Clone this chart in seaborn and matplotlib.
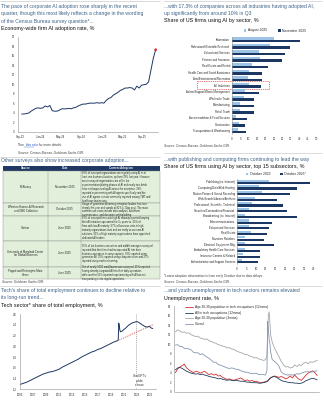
import textwrap
import numpy as np
import pandas as pd
import matplotlib
matplotlib.use("Agg")
import matplotlib.pyplot as plt
import seaborn as sns
from matplotlib.patches import Rectangle

# ---------------- data ----------------
# Panel 1: economy-wide firm AI adoption rate (biweekly survey), %
ai_dates = pd.date_range("2023-09-11", periods=58, freq="14D")
ai_rate = [3.7, 3.7, 3.8, 3.9, 4.3, 4.6, 4.9, 5.0, 4.9,
           5.0, 5.4, 5.2, 5.5, 4.4, 4.3, 4.3, 4.5, 4.8,
           4.8, 4.8, 4.9, 4.8, 5.0, 5.1, 5.4, 5.6, 5.8,
           5.8, 5.9, 6.0, 6.0, 6.0, 6.1, 6.0, 6.1, 6.0,
           6.6, 7.0, 7.2, 7.7, 8.0, 8.3, 8.7, 8.9, 9.2,
           9.2, 9.3, 9.2, 8.8, 9.6, 9.2, 9.8, 9.9, 10.0,
           10.5, 13.0, 15.5, 17.3]
ai_xticks = ["2023-09-01", "2024-01-01", "2024-05-01", "2024-09-01",
             "2025-01-01", "2025-05-01", "2025-09-01"]
ai_xlabels = ["Sep-23", "Jan-24", "May-24", "Sep-24", "Jan-25", "May-25", "Sep-25"]

# Panel 2: share of US firms using AI by sector, %
sectors = ["Information", "Professional/Scientific/Technical", "Educational Services",
           "Finance and Insurance", "Real Estate and Rental",
           "Health Care and Social Assistance", "Arts/Entertainment/Recreation",
           "All Industries", "Admin/Support/Waste Management", "Wholesale Trade",
           "Manufacturing", "Retail Trade", "Accommodation & Food Services",
           "Construction", "Transportation & Warehousing"]
sector_aug = [24.8, 22.8, 15.9, 16.9, 11.9, 10.3, 9.5, 10.0, 8.0, 7.0, 5.0, 5.0, 2.4, 4.0, 3.7]
sector_nov = [40.7, 34.7, 31.7, 29.8, 21.4, 17.9, 17.9, 17.3, 15.9, 12.9, 12.9, 12.9, 8.9, 8.0, 8.3]
sector_periods = ["August 2025", "November 2025"]

# Panel 3: top 15 subsectors, %
subsectors = ["Publishing (ex. Internet)", "Computing/Data/Web Hosting",
              "Motion Picture & Sound Recording", "Web Search/Libraries/Archives",
              "Professional, Scientific, Technical", "Securities/Commodities/Financial",
              "Broadcasting (ex. Internet)", "Telecommunications", "Educational Services",
              "Real Estate", "Nonstore Retailers", "Electrical Equipment Mfg.",
              "Ambulatory Health Care Services", "Insurance Carriers & Related",
              "Administrative and Support Services"]
sub_2023 = [16.5, 11.3, 13.0, 9.5, 7.8, 6.2, 4.3, 6.2, 6.0, 7.4, 4.3, 4.3, 4.0, 3.2, 2.6]
sub_2025 = [38.2, 31.3, 27.8, 20.8, 23.8, 26.0, 31.3, 18.2, 16.8, 15.6, 13.9, 19.1, 12.1, 12.1, 11.0]
sub_periods = ["October 2023", "October 2025*"]

# Table: other surveys
tbl_source = ["McKinsey", "Wharton Human-AI Research\nand GBK Collective", "Gartner",
              "University of Maryland Center\nfor Global Business",
              "Paypal and Reimagine Main\nStreet"]
tbl_date = ["November 2025", "October 2025", "June 2025", "June 2025", "June 2025"]
tbl_text = [
    "88% of surveyed organizations are regularly using AI in at least one business "
    "function, up from 78% last year. However, most surveyed organizations are still in "
    "the experimentation/piloting phases of AI and nearly two-thirds have not begun "
    "scaling AI across the enterprise. 39% reported experimenting with AI agents "
    "specifically and the use of AI agents is most commonly reported among TMT and "
    "healthcare businesses.",
    "Usage of generative AI among enterprise leaders has risen sharply this year and "
    "stands at 82% (+72pp yoy). The most common use cases include data analysis, "
    "document summarization, and document writing/editing.",
    "63% of surveyed firms with high AI maturity reported keeping their AI initiatives "
    "operational for 3+ years vs. 20% of firms with low AI maturity. 57% of business "
    "units in high-maturity organizations trust and are ready to use new AI solutions. "
    "91% of high-maturity organizations have appointed dedicated AI leaders.",
    "55% of the business executives and middle managers surveyed reported that their "
    "firms had incorporated AI into their business operations in some capacity. 39% "
    "reported using generative AI, 35% reported using computer vision and 27% reported "
    "using machine learning.",
    "Out of nearly 1000 small businesses surveyed, 25% reported having already "
    "integrated AI into their daily operations while another 51% reported experimenting "
    "with AI but not incorporating it into regular operations.",
]

# Panel 4: tech sector share of total employment, %
tech_year = [2005.0, 2005.5, 2006.0, 2006.5, 2007.0, 2007.5, 2008.0, 2008.5, 2009.0, 2009.5,
             2010.0, 2010.5, 2011.0, 2011.5, 2012.0, 2012.5, 2013.0, 2013.5, 2014.0, 2014.5,
             2015.0, 2015.5, 2016.0, 2016.5, 2017.0, 2017.5, 2018.0, 2018.5, 2019.0, 2019.5,
             2020.0, 2020.17, 2020.25, 2020.33, 2020.42, 2020.5, 2020.75, 2021.0, 2021.25,
             2021.5, 2021.75, 2022.0, 2022.25, 2022.5, 2022.75, 2023.0, 2023.25, 2023.5,
             2023.75, 2024.0, 2024.25, 2024.5, 2024.75, 2025.0, 2025.25, 2025.5]
tech_share = [1.29, 1.31, 1.33, 1.36, 1.39, 1.42, 1.45, 1.48, 1.50, 1.52,
              1.53, 1.55, 1.57, 1.61, 1.64, 1.67, 1.70, 1.73, 1.76, 1.80,
              1.83, 1.86, 1.89, 1.91, 1.94, 1.96, 1.99, 2.02, 2.05, 2.08,
              2.10, 2.12, 2.43, 2.38, 2.30, 2.27, 2.28, 2.31, 2.33,
              2.36, 2.39, 2.41, 2.43, 2.44, 2.45, 2.46, 2.45, 2.43,
              2.41, 2.39, 2.37, 2.36, 2.36, 2.37, 2.34, 2.33]
trend_year = [2020.2, 2025.5]
trend_share = [2.11, 2.40]
chatgpt_release = 2022.9
tech_xticks = list(range(2005, 2026, 2))
tech_yticks = [1.2, 1.4, 1.6, 1.8, 2.0, 2.2, 2.4, 2.6]

# Panel 5: unemployment rate, %
u_t = [2010.0, 2010.25, 2010.5, 2010.75, 2011.0, 2011.25, 2011.5, 2011.75, 2012.0, 2012.25,
       2012.5, 2012.75, 2013.0, 2013.25, 2013.5, 2013.75, 2014.0, 2014.25, 2014.5, 2014.75,
       2015.0, 2015.25, 2015.5, 2015.75, 2016.0, 2016.25, 2016.5, 2016.75, 2017.0, 2017.25,
       2017.5, 2017.75, 2018.0, 2018.25, 2018.5, 2018.75, 2019.0, 2019.25, 2019.5, 2019.75,
       2020.0, 2020.17, 2020.25, 2020.33, 2020.42, 2020.5, 2020.58, 2020.75, 2021.0, 2021.25,
       2021.5, 2021.75, 2022.0, 2022.25, 2022.5, 2022.75, 2023.0, 2023.25, 2023.5, 2023.75,
       2024.0, 2024.25, 2024.5, 2024.75, 2025.0, 2025.25, 2025.5, 2025.75]
u_young = [12.6, 13.0, 12.8, 12.5, 12.6, 12.3, 12.4, 12.0, 11.8, 11.6,
           11.7, 11.3, 11.2, 11.0, 11.1, 10.7, 10.6, 10.3, 10.2, 9.9,
           9.8, 9.6, 9.5, 9.2, 9.3, 9.0, 8.9, 8.6, 8.4, 8.2,
           8.1, 7.8, 7.8, 7.5, 7.4, 7.1, 7.2, 6.9, 6.8, 6.6,
           6.7, 7.5, 11.5, 16.2, 16.8, 14.5, 12.0, 10.5, 9.2, 8.3,
           7.4, 6.4, 5.7, 5.2, 5.3, 5.0, 5.1, 5.6, 5.3, 5.7,
           5.5, 6.0, 6.2, 5.9, 6.3, 6.2, 6.4, 6.6]
u_overall = [9.8, 9.9, 9.5, 9.5, 9.1, 9.1, 9.0, 8.8, 8.3, 8.2,
             8.2, 7.8, 8.0, 7.6, 7.3, 7.0, 6.6, 6.2, 6.2, 5.7,
             5.6, 5.4, 5.2, 5.0, 4.9, 5.0, 4.9, 4.7, 4.7, 4.4,
             4.3, 4.1, 4.1, 3.9, 3.8, 3.8, 3.9, 3.6, 3.6, 3.6,
             3.5, 4.4, 14.8, 13.2, 11.0, 10.2, 8.4, 6.8, 6.4, 6.0,
             5.4, 4.2, 3.8, 3.6, 3.5, 3.6, 3.5, 3.6, 3.8, 3.7,
             3.9, 4.1, 4.2, 4.2, 4.1, 4.2, 4.3, 4.4]
u_t_tech = [2010.0, 2010.25, 2010.5, 2010.75, 2011.0, 2011.25, 2011.5, 2011.75, 2012.0, 2012.25,
            2012.5, 2012.75, 2013.0, 2013.25, 2013.5, 2013.75, 2014.0, 2014.25, 2014.5, 2014.75,
            2015.0, 2015.25, 2015.5, 2015.75, 2016.0, 2016.25, 2016.5, 2016.75, 2017.0, 2017.25,
            2017.5, 2017.75, 2018.0, 2018.25, 2018.5, 2018.75, 2019.0, 2019.25, 2019.5, 2019.75,
            2020.0, 2020.25, 2020.5, 2020.75, 2021.0, 2021.25, 2021.5, 2021.75, 2022.0, 2022.25,
            2022.5, 2022.75, 2023.0, 2023.25, 2023.5, 2023.75, 2024.0, 2024.25, 2024.5, 2024.75,
            2025.0, 2025.25, 2025.5, 2025.75]
u_young_tech = [4.0, 4.8, 5.2, 5.5, 5.8, 5.0, 4.6, 4.3, 4.0, 4.3,
                4.2, 3.9, 4.1, 4.3, 3.9, 3.6, 3.8, 3.5, 3.7, 3.3,
                3.4, 3.0, 2.8, 2.6, 2.7, 2.5, 2.4, 2.6, 2.7, 2.9,
                2.6, 2.3, 2.5, 2.2, 2.4, 2.1, 2.2, 2.0, 1.9, 2.0,
                2.1, 2.3, 2.8, 3.1, 3.3, 3.2, 3.0, 3.2, 3.0, 2.7,
                2.9, 3.3, 2.9, 3.5, 3.0, 2.6, 2.4, 2.9, 3.5, 3.9,
                4.2, 4.4, 4.0, 3.4]
u_all_tech = [4.6, 5.0, 5.1, 4.9, 4.6, 4.3, 4.1, 3.9, 3.8, 3.7,
              3.8, 3.6, 3.7, 3.5, 3.4, 3.2, 3.1, 3.0, 2.9, 2.7,
              2.8, 2.6, 2.5, 2.4, 2.5, 2.4, 2.3, 2.4, 2.3, 2.2,
              2.2, 2.1, 2.0, 2.0, 1.9, 1.9, 1.9, 1.8, 1.8, 1.9,
              2.0, 2.2, 2.8, 3.1, 3.2, 3.0, 2.7, 2.4, 2.2, 2.1,
              2.0, 1.9, 1.9, 1.8, 1.8, 1.7, 1.8, 2.0, 2.3, 2.5,
              2.7, 2.8, 2.7, 2.5]
u_series = ["Age 20-30 population in tech occupations (12mma)",
            "All in tech occupations (12mma)",
            "Age 20-30 population (3mma)", "Overall"]

# ---------------- style ----------------
sns.set_theme(style="white")
plt.rcParams["font.family"] = ["Liberation Sans", "DejaVu Sans"]
DARK = "#1c3764"
LIGHT = "#9dc3e6"
RED = "#d0312d"
TITLE = "#3b6186"
AXC = "#8c8c8c"
TXT = "#262626"
TICKFS = 2.0

W, H = 324, 400
fig = plt.figure(figsize=(3.24, 4.0), dpi=100)
bg = fig.add_axes([0, 0, 1, 1])
bg.set_xlim(0, W)
bg.set_ylim(H, 0)
bg.axis("off")


def px_axes(l, t, r, b):
    return fig.add_axes([l / W, 1 - b / H, (r - l) / W, (b - t) / H])


def style_ax(ax, left=True, bottom=True):
    for s in ["top", "right"]:
        ax.spines[s].set_visible(False)
    ax.spines["left"].set_visible(left)
    ax.spines["bottom"].set_visible(bottom)
    for s in ["left", "bottom"]:
        ax.spines[s].set_color(AXC)
        ax.spines[s].set_linewidth(0.4)
    ax.tick_params(axis="both", labelsize=TICKFS, colors=TXT, length=1.2, width=0.3,
                   pad=1.2, color=AXC)
    ax.set_facecolor("none")
    ax.grid(False)


def title(x, y, s, **kw):
    bg.text(x, y, s, fontsize=3.6, color=TITLE, va="center", ha="left", **kw)


def subtitle(x, y, s):
    bg.text(x, y, s, fontsize=3.9, color="#111111", va="center", ha="left")


def note(x, y, s, italic=False):
    return bg.text(x, y, s, fontsize=2.3, color="#404040", va="center", ha="left",
                   style="italic" if italic else "normal")


# separator lines
for (x0, x1, y) in [(0, 160, 1), (164, 322, 1), (0, 160, 156.5), (164, 322, 152.5),
                    (0, 160, 286), (164, 322, 286)]:
    bg.plot([x0, x1], [y, y], color="#bfbfbf", lw=0.4)

# ---------------- Panel 1 ----------------
title(1, 6.5, "The pace of corporate AI adoption rose sharply in the recent")
title(1, 13.8, "quarter, though this most likely reflects a change in the wording")
title(1, 21, "of the Census Bureau survey question*...")
subtitle(1, 28.5, "Economy-wide firm AI adoption rate, %")

ax1 = px_axes(18, 37, 158, 131.5)
df1 = pd.DataFrame({"date": ai_dates, "rate": ai_rate})
sns.lineplot(data=df1, x="date", y="rate", ax=ax1, color=DARK, lw=0.7)
sns.scatterplot(data=df1.tail(1), x="date", y="rate", ax=ax1, color=RED, s=4,
                edgecolor="none", zorder=5)
ax1.set_xlim(pd.Timestamp("2023-08-20"), pd.Timestamp("2025-12-01"))
ax1.set_ylim(0, 20)
ax1.set_yticks(range(0, 21, 2))
ax1.set_xticks(pd.to_datetime(ai_xticks))
ax1.set_xticklabels(ai_xlabels)
ax1.set_xlabel("")
ax1.set_ylabel("")
style_ax(ax1)

# footnote with an underlined link, laid out left to right without overlap
t_a = bg.text(18, 146, "*See", fontsize=2.3, color="#404040", va="baseline", ha="left")
t_b = bg.annotate(" this note", xy=(1, 0), xycoords=t_a, fontsize=2.3, color="#1f4fbf",
                  va="bottom", ha="left")
t_c = bg.annotate(" for more details.", xy=(1, 0), xycoords=t_b, fontsize=2.3,
                  color="#404040", va="bottom", ha="left")
bg.plot([24.2, 34.2], [147.0, 147.0], color="#1f4fbf", lw=0.25)
note(18, 152.3, "Source: Census Bureau, Goldman Sachs GIR.", italic=True)

# ---------------- Panel 2 ----------------
title(164, 6.5, "...with 17.3% of companies across all industries having adopted AI,")
title(164, 13.5, "up significantly from around 10% in Q3")
subtitle(164, 20.5, "Share of US firms using AI by sector, %")

ax2 = px_axes(232, 36.5, 316, 134)
df2 = pd.DataFrame({"sector": sectors * 2,
                    "value": sector_aug + sector_nov,
                    "period": [sector_periods[0]] * len(sectors) + [sector_periods[1]] * len(sectors)})
sns.barplot(data=df2, y="sector", x="value", hue="period", order=sectors,
            hue_order=sector_periods, palette=[LIGHT, DARK], orient="h", width=0.82,
            saturation=1, linewidth=0, ax=ax2)
ax2.set_xlim(0, 50)
ax2.set_xticks(range(0, 51, 5))
ax2.set_xlabel("")
ax2.set_ylabel("")
style_ax(ax2, bottom=False)
ax2.tick_params(axis="y", length=0, labelsize=2.0, pad=1.5)
sns.move_legend(ax2, "center", bbox_to_anchor=(275 / W, 1 - 30.5 / H),
                bbox_transform=fig.transFigure, ncol=2, frameon=False, title=None,
                fontsize=2.4, handlelength=0.7, handleheight=0.7, handletextpad=0.4,
                columnspacing=3.5)
# dashed box around All Industries
bg.add_patch(Rectangle((197, 81.2), 72, 7.6, fill=False, ec=RED, lw=0.45, ls=(0, (2, 1.5))))
note(164, 146, "Source: Census Bureau, Goldman Sachs GIR.", italic=True)

# ---------------- Panel 3 ----------------
title(164, 159.5, "...with publishing and computing firms continuing to lead the way")
subtitle(164, 166.3, "Share of US firms using AI by sector, top 15 subsectors, %")

ax3 = px_axes(237, 179, 313.8, 264)
df3 = pd.DataFrame({"sub": subsectors * 2,
                    "value": sub_2023 + sub_2025,
                    "period": [sub_periods[0]] * len(subsectors) + [sub_periods[1]] * len(subsectors)})
sns.barplot(data=df3, y="sub", x="value", hue="period", order=subsectors,
            hue_order=sub_periods, palette=[LIGHT, DARK], orient="h", width=0.8,
            saturation=1, linewidth=0, ax=ax3)
ax3.set_xlim(0, 40)
ax3.set_xticks(range(0, 41, 5))
ax3.set_xlabel("")
ax3.set_ylabel("")
style_ax(ax3, bottom=False)
ax3.tick_params(axis="y", length=0, labelsize=2.0, pad=1.5)
sns.move_legend(ax3, "center", bbox_to_anchor=(276 / W, 1 - 174.3 / H),
                bbox_transform=fig.transFigure, ncol=2, frameon=False, title=None,
                fontsize=2.4, handlelength=0.7, handleheight=0.7, handletextpad=0.4,
                columnspacing=3.0)
note(164, 276, "*Latest adoption observation is from early October due to data delays.")
note(164, 281.3, "Source: Census Bureau, Goldman Sachs GIR.", italic=True)

# ---------------- Table ----------------
title(1, 160.5, "Other surveys also show increased corporate adoption...")
tx0, c1, c2, tx1 = 3, 48, 81, 160
row_edges = [165.5, 170.5, 203, 216, 240.5, 266.5, 279]
bg.add_patch(Rectangle((tx0, row_edges[0]), tx1 - tx0, row_edges[1] - row_edges[0],
                       fc="#1f3864", ec="none"))
for xc, s in [((tx0 + c1) / 2, "Source"), ((c1 + c2) / 2, "Date"),
              ((c2 + tx1) / 2, "Current Adoption")]:
    bg.text(xc, (row_edges[0] + row_edges[1]) / 2, s, fontsize=2.1, color="white",
            ha="center", va="center", weight="bold")
TFS = 1.8
for i in range(5):
    y0, y1 = row_edges[i + 1], row_edges[i + 2]
    bg.add_patch(Rectangle((tx0, y0), tx1 - tx0, y1 - y0, fc="#e2efda",
                           ec="#8c8c8c", lw=0.3))
    ym = (y0 + y1) / 2
    bg.text((tx0 + c1) / 2, ym, tbl_source[i], fontsize=1.95, color=TXT,
            ha="center", va="center", linespacing=1.0)
    bg.text((c1 + c2) / 2, ym, tbl_date[i], fontsize=1.95, color=TXT,
            ha="center", va="center")
    bg.text(c2 + 1.2, ym, textwrap.fill(tbl_text[i], 60), fontsize=TFS, color=TXT,
            ha="left", va="center", linespacing=0.98)
for xv in [c1, c2]:
    bg.plot([xv, xv], [row_edges[1], row_edges[-1]], color="#8c8c8c", lw=0.3)
note(2, 282, "Source: Goldman Sachs GIR.", italic=True)

# ---------------- Panel 4 ----------------
title(1, 290.5, "Tech's share of total employment continues to decline relative to")
title(1, 297.8, "its long-run trend...")
subtitle(1, 305, "Tech sector* share of total employment, %")

ax4 = px_axes(20, 314, 156, 389.3)
sns.lineplot(x=tech_year, y=tech_share, ax=ax4, color=DARK, lw=0.7)
sns.lineplot(x=trend_year, y=trend_share, ax=ax4, color=RED, lw=0.5, linestyle=(0, (2, 1.5)))
ax4.axvline(chatgpt_release, color="#7f7f7f", lw=0.4, ls=(0, (2, 1.5)))
ax4.text(2023.45, 1.36, "ChatGPT's\npublic\nrelease", fontsize=2.1, color=TXT,
         ha="center", va="center", linespacing=1.2,
         bbox=dict(fc="white", ec="none", pad=0.3))
ax4.set_xlim(2005, 2026)
ax4.set_ylim(1.2, 2.6)
ax4.set_xticks(tech_xticks)
ax4.set_yticks(tech_yticks)
ax4.set_yticklabels([f"{v:.1f}" for v in tech_yticks])
style_ax(ax4)

# ---------------- Panel 5 ----------------
title(164, 290.8, "...and youth unemployment in tech sectors remains elevated")
subtitle(164, 298.3, "Unemployment rate, %")

ax5 = px_axes(174.5, 306.2, 318.5, 391.7)
df5 = pd.concat([
    pd.DataFrame({"t": u_t_tech, "v": u_young_tech, "s": u_series[0]}),
    pd.DataFrame({"t": u_t_tech, "v": u_all_tech, "s": u_series[1]}),
    pd.DataFrame({"t": u_t, "v": u_young, "s": u_series[2]}),
    pd.DataFrame({"t": u_t, "v": u_overall, "s": u_series[3]}),
])
sns.lineplot(data=df5, x="t", y="v", hue="s", hue_order=u_series,
             palette=[RED, "#1f3f5f", "#a6a6a6", "#8497b0"], lw=0.6, ax=ax5)
ax5.set_xlim(2009.9, 2025.9)
ax5.set_ylim(0, 18)
ax5.set_yticks(range(0, 19, 2))
ax5.set_xticks(range(2010, 2026, 2))
ax5.set_xticklabels([])
ax5.set_xlabel("")
ax5.set_ylabel("")
style_ax(ax5)
sns.move_legend(ax5, "upper left", bbox_to_anchor=(182 / W, 1 - 302.5 / H),
                bbox_transform=fig.transFigure, frameon=False, title=None,
                fontsize=2.3, handlelength=2.5, handletextpad=0.6, labelspacing=0.45)

fig.savefig("out.png", dpi=100)
